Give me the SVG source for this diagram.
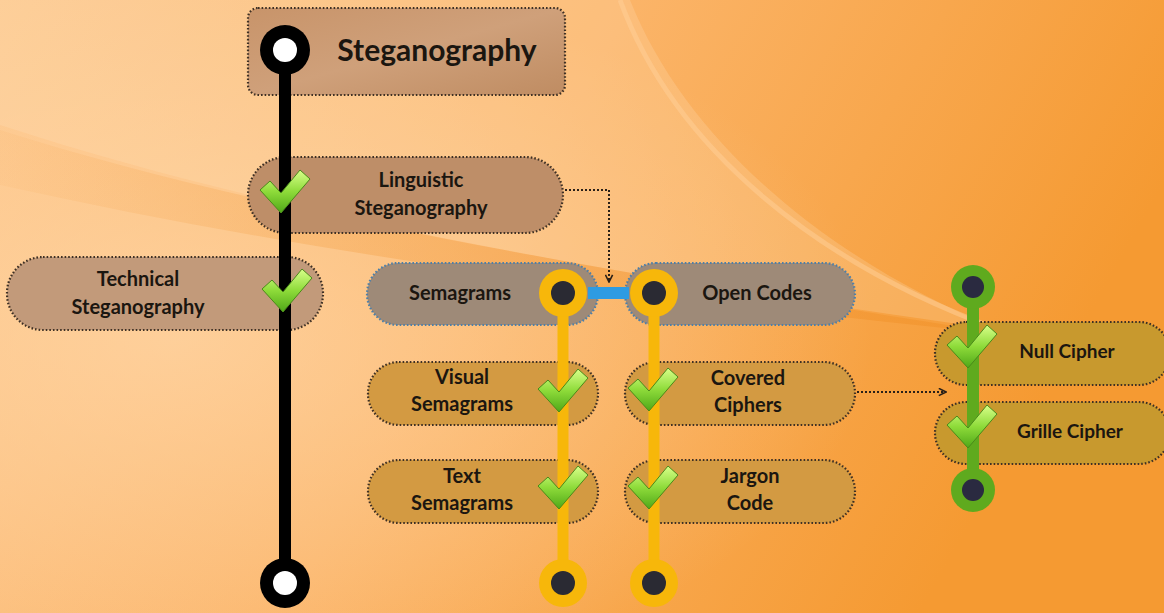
<svg xmlns="http://www.w3.org/2000/svg" width="1164" height="613" viewBox="0 0 1164 613">
<defs>
<linearGradient id="bg" x1="0" y1="0" x2="1" y2="0.3">
<stop offset="0" stop-color="#FDC88E"/>
<stop offset="0.5" stop-color="#FBB468"/>
<stop offset="1" stop-color="#F59A32"/>
</linearGradient>
<radialGradient id="glow" cx="0.15" cy="0.55" r="0.6">
<stop offset="0" stop-color="#FFD7A8" stop-opacity="0.7"/>
<stop offset="1" stop-color="#FFD7A8" stop-opacity="0"/>
</radialGradient>
<linearGradient id="streak" x1="0" y1="0" x2="1" y2="0">
<stop offset="0" stop-color="#EE8A1E" stop-opacity="0.05"/>
<stop offset="0.5" stop-color="#EE8A1E" stop-opacity="0.3"/>
<stop offset="1" stop-color="#EE8A1E" stop-opacity="0.35"/>
</linearGradient>
<linearGradient id="boxg" x1="0" y1="0" x2="1" y2="1">
<stop offset="0" stop-color="#C8946A"/>
<stop offset="0.5" stop-color="#CFA07A"/>
<stop offset="1" stop-color="#BF8C62"/>
</linearGradient>
<linearGradient id="chk" x1="0" y1="0" x2="0" y2="1">
<stop offset="0" stop-color="#D8FF8A"/>
<stop offset="0.5" stop-color="#8EDB3A"/>
<stop offset="1" stop-color="#4FA818"/>
</linearGradient>
<marker id="arr" viewBox="0 0 10 10" refX="9" refY="5" markerWidth="9" markerHeight="9" orient="auto" markerUnits="userSpaceOnUse">
<path d="M1,1 L9,5 L1,9" fill="none" stroke="#2a2018" stroke-width="1.8"/>
</marker>
<path id="check" d="M-25,-3 L-15,-12 L-4,0 L15,-23 L25,-14 L-4,20 Z" fill="url(#chk)" stroke="#4a8a1a" stroke-width="1" stroke-linejoin="round"/>
</defs>
<style>
.t{font-family:Lato,"Noto Sans","Liberation Sans",sans-serif;font-weight:bold;fill:#1b1610;text-anchor:middle}
.pill{stroke:#3e3024;stroke-width:2.2;stroke-dasharray:1.6 2}
.brown{fill:#BE8E68}
.blue{fill:#9E8A78;stroke:#4d7fa8}
.gold{fill:#D39A42}
.olive{fill:#C8992E}
.conn{fill:none;stroke:#2a2018;stroke-width:2;stroke-dasharray:2 2}
</style>
<rect width="1164" height="613" fill="url(#bg)"/>
<rect width="1164" height="613" fill="url(#glow)"/>
<path d="M0,0 L630,0 C690,150 840,265 1000,330 C720,290 320,230 0,125 Z" fill="#FFE2C0" fill-opacity="0.22"/>
<path d="M0,130 C300,225 700,285 1010,335 C720,305 360,265 0,185 Z" fill="url(#streak)"/>
<path d="M620,0 C675,150 820,265 1000,330" fill="none" stroke="#FFCF98" stroke-width="5" stroke-opacity="0.5"/>

<g id="connectors">
<path class="conn" d="M565,190 L609,190 L609,282" marker-end="url(#arr)"/>
<path class="conn" d="M857,392 L946,392" marker-end="url(#arr)"/>
</g>

<g id="steganography">
<rect class="pill" x="248" y="8" width="317" height="87" rx="10" fill="url(#boxg)"/>
<text class="t" x="437" y="61" font-size="30">Steganography</text>
</g>
<g id="linguistic">
<rect class="pill brown" x="248" y="157" width="315" height="76" rx="38"/>
<text class="t" x="421" y="187" font-size="20">Linguistic</text>
<text class="t" x="421" y="215" font-size="20">Steganography</text>
</g>
<g id="technical">
<rect class="pill brown" x="7" y="257" width="316" height="73" rx="36" style="fill:#C29A7A"/>
<text class="t" x="138" y="286" font-size="20">Technical</text>
<text class="t" x="138" y="314" font-size="20">Steganography</text>
</g>
<g id="semagrams">
<rect class="pill blue" x="367" y="263" width="231" height="62" rx="31"/>
<text class="t" x="460" y="300" font-size="20">Semagrams</text>
</g>
<g id="opencodes">
<rect class="pill blue" x="625" y="263" width="230" height="62" rx="31"/>
<text class="t" x="757" y="300" font-size="20">Open Codes</text>
</g>
<g id="visual">
<rect class="pill gold" x="368" y="362" width="230" height="63" rx="31"/>
<text class="t" x="462" y="384" font-size="20">Visual</text>
<text class="t" x="462" y="411" font-size="20">Semagrams</text>
</g>
<g id="covered">
<rect class="pill gold" x="625" y="362" width="230" height="63" rx="31"/>
<text class="t" x="748" y="385" font-size="20">Covered</text>
<text class="t" x="748" y="412" font-size="20">Ciphers</text>
</g>
<g id="text">
<rect class="pill gold" x="368" y="460" width="230" height="63" rx="31"/>
<text class="t" x="462" y="483" font-size="20">Text</text>
<text class="t" x="462" y="510" font-size="20">Semagrams</text>
</g>
<g id="jargon">
<rect class="pill gold" x="625" y="460" width="230" height="63" rx="31"/>
<text class="t" x="750" y="483" font-size="20">Jargon</text>
<text class="t" x="750" y="510" font-size="20">Code</text>
</g>
<g id="null">
<rect class="pill olive" x="935" y="322" width="235" height="63" rx="31"/>
<text class="t" x="1067" y="358" font-size="19">Null Cipher</text>
</g>
<g id="grille">
<rect class="pill olive" x="935" y="402" width="235" height="62" rx="31"/>
<text class="t" x="1070" y="438" font-size="19">Grille Cipher</text>
</g>

<g id="black-line">
<line x1="285" y1="50" x2="285" y2="583" stroke="#000" stroke-width="12"/>
<circle cx="285" cy="50" r="25" fill="#000"/>
<circle cx="285" cy="50" r="12" fill="#fff"/>
<circle cx="285" cy="583" r="25" fill="#000"/>
<circle cx="285" cy="583" r="12" fill="#fff"/>
</g>
<g id="yellow-lines">
<line x1="563" y1="293" x2="563" y2="583" stroke="#F7B70A" stroke-width="11"/>
<line x1="654" y1="293" x2="654" y2="583" stroke="#F7B70A" stroke-width="11"/>
<rect x="588" y="287" width="41" height="12" fill="#2E9BE2"/>
<circle cx="563" cy="293" r="24" fill="#F7B70A"/>
<circle cx="563" cy="293" r="12" fill="#2A2A33"/>
<circle cx="654" cy="293" r="24" fill="#F7B70A"/>
<circle cx="654" cy="293" r="12" fill="#2A2A33"/>
<circle cx="563" cy="583" r="24" fill="#F7B70A"/>
<circle cx="563" cy="583" r="12" fill="#2A2A33"/>
<circle cx="654" cy="583" r="24" fill="#F7B70A"/>
<circle cx="654" cy="583" r="12" fill="#2A2A33"/>
</g>
<g id="green-line">
<line x1="973" y1="287" x2="973" y2="490" stroke="#5FAA1E" stroke-width="12"/>
<circle cx="973" cy="287" r="22" fill="#5FAA1E"/>
<circle cx="973" cy="287" r="11" fill="#2A2A40"/>
<circle cx="973" cy="490" r="22" fill="#5FAA1E"/>
<circle cx="973" cy="490" r="11" fill="#2A2A40"/>
</g>
<g id="checks">
<use href="#check" x="285" y="193"/>
<use href="#check" x="287" y="292"/>
<use href="#check" x="563" y="392"/>
<use href="#check" x="563" y="489"/>
<use href="#check" x="653" y="391"/>
<use href="#check" x="653" y="489"/>
<use href="#check" x="972" y="348"/>
<use href="#check" x="972" y="428"/>
</g>
</svg>
